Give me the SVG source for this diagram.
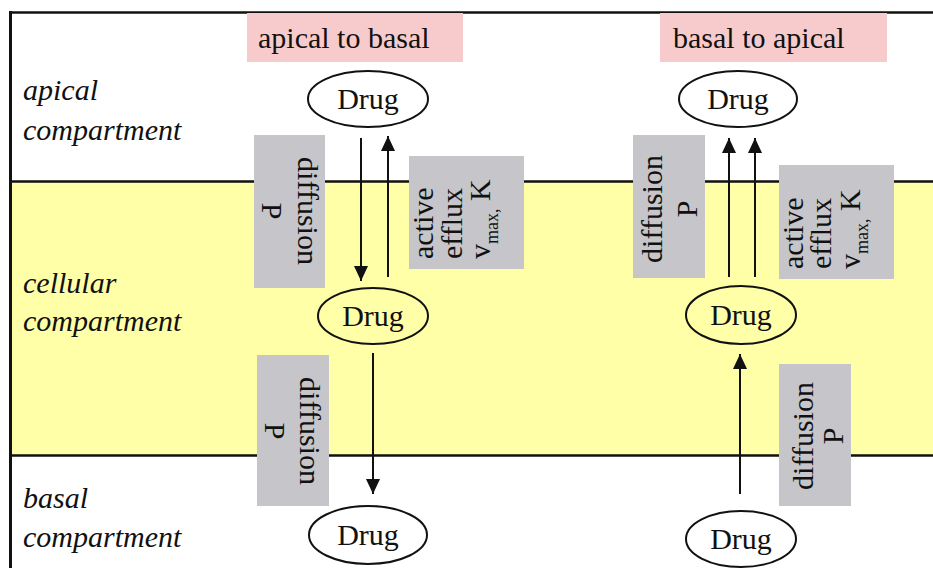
<svg xmlns="http://www.w3.org/2000/svg" width="933" height="568" viewBox="0 0 933 568" font-family="'Liberation Serif', 'Times New Roman', Tinos, 'DejaVu Serif', serif">
<style>
  .t { font-family: 'Liberation Serif', 'Times New Roman', Tinos, 'DejaVu Serif', serif; font-size: 30px; fill: #111; }
  .it { font-style: italic; }
  .box { fill: #C6C5CA; }
  .pink { fill: #F7CBCB; }
  .drug { stroke: #111; stroke-width: 2; }
  .line { stroke: #111; stroke-width: 2.5; fill: none; }
  .arrow { stroke: #111; stroke-width: 2; fill: none; marker-end: url(#ah); }
</style>
<defs>
  <marker id="ah" markerUnits="userSpaceOnUse" markerWidth="16" markerHeight="15" refX="15" refY="7" orient="auto">
    <path d="M0,0 L15,7 L0,14 z" fill="#111"/>
  </marker>
</defs>
<rect x="0" y="0" width="933" height="568" fill="#fff"/>
<g id="compartments">
  <rect x="10" y="181" width="923" height="275" fill="#FFFFA8"/>
  <line class="line" x1="10" y1="181.5" x2="933" y2="181.5"/>
  <line class="line" x1="10" y1="455.5" x2="933" y2="455.5"/>
  <line class="line" x1="9" y1="12.5" x2="933" y2="12.5"/>
  <line x1="10.5" y1="11" x2="10.5" y2="568" stroke="#111" stroke-width="3"/>
</g>
<g id="compartment-labels">
  <text class="t it" x="23" y="100">apical</text>
  <text class="t it" x="23" y="140">compartment</text>
  <text class="t it" x="23" y="293">cellular</text>
  <text class="t it" x="23" y="331">compartment</text>
  <text class="t it" x="23" y="508">basal</text>
  <text class="t it" x="23" y="547">compartment</text>
</g>
<g id="title-a2b">
  <rect class="pink" x="247" y="13" width="216" height="49"/>
  <text class="t" x="258" y="48">apical to basal</text>
</g>
<g id="title-b2a">
  <rect class="pink" x="660" y="13" width="227" height="49"/>
  <text class="t" x="673" y="48">basal to apical</text>
</g>
<g id="box-l-diff1">
  <rect class="box" x="254" y="135" width="71" height="153"/>
  <text class="t" transform="translate(280,211) rotate(90)" text-anchor="middle"><tspan x="0" y="-18">diffusion</tspan><tspan x="0" y="18">P</tspan></text>
</g>
<g id="box-l-diff2">
  <rect class="box" x="257" y="355" width="72" height="151"/>
  <text class="t" transform="translate(283,431) rotate(90)" text-anchor="middle"><tspan x="0" y="-17">diffusion</tspan><tspan x="0" y="18">P</tspan></text>
</g>
<g id="box-l-efflux">
  <rect class="box" x="409" y="156" width="115" height="113"/>
  <text class="t" transform="translate(433,259) rotate(-90)"><tspan x="0" y="0">active</tspan><tspan x="0" y="29">efflux</tspan><tspan x="0" y="57">v</tspan><tspan font-size="18" dy="8">max,</tspan><tspan dy="-8"> K</tspan></text>
</g>
<g id="box-r-diff1">
  <rect class="box" x="633" y="135" width="72" height="143"/>
  <text class="t" transform="translate(662,209) rotate(-90)" text-anchor="middle"><tspan x="0" y="0">diffusion</tspan><tspan x="0" y="35">P</tspan></text>
</g>
<g id="box-r-efflux">
  <rect class="box" x="779" y="165" width="115" height="114"/>
  <text class="t" transform="translate(803,269) rotate(-90)"><tspan x="0" y="0">active</tspan><tspan x="0" y="28">efflux</tspan><tspan x="0" y="57">v</tspan><tspan font-size="18" dy="8">max,</tspan><tspan dy="-8"> K</tspan></text>
</g>
<g id="box-r-diff2">
  <rect class="box" x="779" y="364" width="72" height="142"/>
  <text class="t" transform="translate(813,436) rotate(-90)" text-anchor="middle"><tspan x="0" y="0">diffusion</tspan><tspan x="0" y="30">P</tspan></text>
</g>
<g id="connectors">
  <line class="arrow" x1="361" y1="138" x2="361" y2="281"/>
  <line class="arrow" x1="388" y1="277" x2="388" y2="136"/>
  <line class="arrow" x1="373" y1="353" x2="373" y2="494"/>
  <line class="arrow" x1="729" y1="277" x2="729" y2="138"/>
  <line class="arrow" x1="755" y1="277" x2="755" y2="138"/>
  <line class="arrow" x1="740" y1="494" x2="740" y2="354"/>
</g>
<g id="drug-l-apical">
  <ellipse class="drug" cx="368" cy="99" rx="60" ry="28" fill="#fff"/>
  <text class="t" x="368" y="109" text-anchor="middle">Drug</text>
</g>
<g id="drug-r-apical">
  <ellipse class="drug" cx="738" cy="99" rx="59" ry="28" fill="#fff"/>
  <text class="t" x="738" y="109" text-anchor="middle">Drug</text>
</g>
<g id="drug-l-cell">
  <ellipse class="drug" cx="373" cy="316" rx="55" ry="28" fill="none"/>
  <text class="t" x="373" y="326" text-anchor="middle">Drug</text>
</g>
<g id="drug-r-cell">
  <ellipse class="drug" cx="741" cy="315" rx="55" ry="29" fill="none"/>
  <text class="t" x="741" y="325" text-anchor="middle">Drug</text>
</g>
<g id="drug-l-basal">
  <ellipse class="drug" cx="368" cy="535" rx="59" ry="29" fill="#fff"/>
  <text class="t" x="368" y="545" text-anchor="middle">Drug</text>
</g>
<g id="drug-r-basal">
  <ellipse class="drug" cx="741" cy="539" rx="55" ry="28" fill="#fff"/>
  <text class="t" x="741" y="549" text-anchor="middle">Drug</text>
</g>
</svg>
